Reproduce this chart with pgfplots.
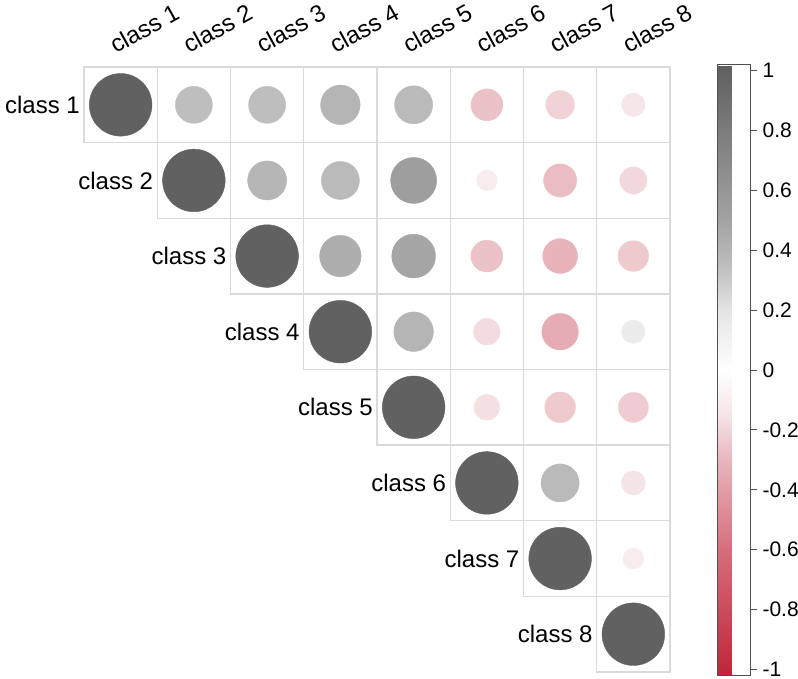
\documentclass[border=0pt]{standalone}
\usepackage{fontspec}
\setmainfont{Liberation Sans}
\usepackage{pgfplots}
\pgfplotsset{compat=1.18}
\usepackage{pgfplotstable}
\usetikzlibrary{calc}
\definecolor{gridc}{RGB}{218,218,218}
\definecolor{barframe}{RGB}{80,80,80}

\pgfplotstableread{
x y r
1 1 1
2 1 0.35
3 1 0.35
4 1 0.40
5 1 0.37
6 1 -0.26
7 1 -0.21
8 1 -0.14
2 2 1
3 2 0.39
4 2 0.37
5 2 0.54
6 2 -0.11
7 2 -0.28
8 2 -0.19
3 3 1
4 3 0.44
5 3 0.49
6 3 -0.26
7 3 -0.31
8 3 -0.24
4 4 1
5 4 0.40
6 4 -0.18
7 4 -0.34
8 4 0.14
5 5 1
6 5 -0.17
7 5 -0.24
8 5 -0.23
6 6 1
7 6 0.37
8 6 -0.15
7 7 1
8 7 -0.11
8 8 1
}\corrdata

\begin{document}
\begin{tikzpicture}
\path[use as bounding box] (0pt,0pt) rectangle (798pt,-679pt);
\begin{axis}[
  at={(84pt,-672pt)}, anchor=south west,
  scale only axis, width=586pt, height=605pt,
  xmin=0.5, xmax=8.5, ymin=0.5, ymax=8.5, y dir=reverse,
  axis line style={draw=none}, xtick=\empty, ytick=\empty,
  clip=false,
  colormap={corr}{
    rgb255(0)=(190,38,58)
    rgb255(40)=(212,108,122)
    rgb255(70)=(232,180,188)
    rgb255(85)=(245,228,231)
    rgb255(100)=(255,255,255)
    rgb255(120)=(228,228,228)
    rgb255(135)=(188,188,188)
    rgb255(150)=(162,162,162)
    rgb255(200)=(95,95,95)
  },
  point meta min=-1.018, point meta max=1.018,
  colorbar,
  colorbar style={
    at={(parent axis.south east)}, anchor=south west,
    xshift=39pt, yshift=-3pt,
    scale only axis, width=32.5pt, height=610pt,
    axis line style={draw=barframe, line width=1pt},
    ytick={-1,-0.8,-0.6,-0.4,-0.2,0,0.2,0.4,0.6,0.8,1},
    yticklabels={-1,-0.8,-0.6,-0.4,-0.2,0,0.2,0.4,0.6,0.8,1},
    ytick pos=right, yticklabel pos=right,
    tick align=outside, major tick length=7pt,
    ytick style={draw=barframe, line width=1pt},
    yticklabel style={font=\fontsize{21}{25}\selectfont, xshift=2pt},
  },
]
% grid
\pgfplotsinvokeforeach{1,...,8}{
  \draw[gridc, line width=1.4pt] (axis cs:#1-0.5,#1-0.5) rectangle (axis cs:8.5,#1+0.5);
}
\pgfplotsinvokeforeach{2,...,8}{
  \draw[gridc, line width=1.4pt] (axis cs:#1-0.5,0.5) -- (axis cs:#1-0.5,#1-0.5);
}
\addplot[scatter, only marks, mark=*,
  point meta=\thisrow{r},
  scatter/use mapped color={draw=mapped color, fill=mapped color},
  visualization depends on={sqrt(abs(\thisrow{r}))*31.3 \as \rad},
  scatter/@pre marker code/.append style={/tikz/mark size=\rad}]
  table[x=x,y=y] {\corrdata};
% row labels
\pgfplotsinvokeforeach{1,...,8}{
  \node[anchor=east, inner sep=0pt, font=\fontsize{24}{28}\selectfont]
    at ($(axis cs:#1-0.5,#1)+(-4pt,0pt)$) {class #1};
}
% column labels
\pgfplotsinvokeforeach{1,...,8}{
  \node[anchor=base west, inner sep=0pt, rotate=29, font=\fontsize{24}{28}\selectfont]
    at ($(axis cs:#1,0.5)+(-5pt,13pt)$) {class #1};
}
\end{axis}
\end{tikzpicture}
\end{document}
